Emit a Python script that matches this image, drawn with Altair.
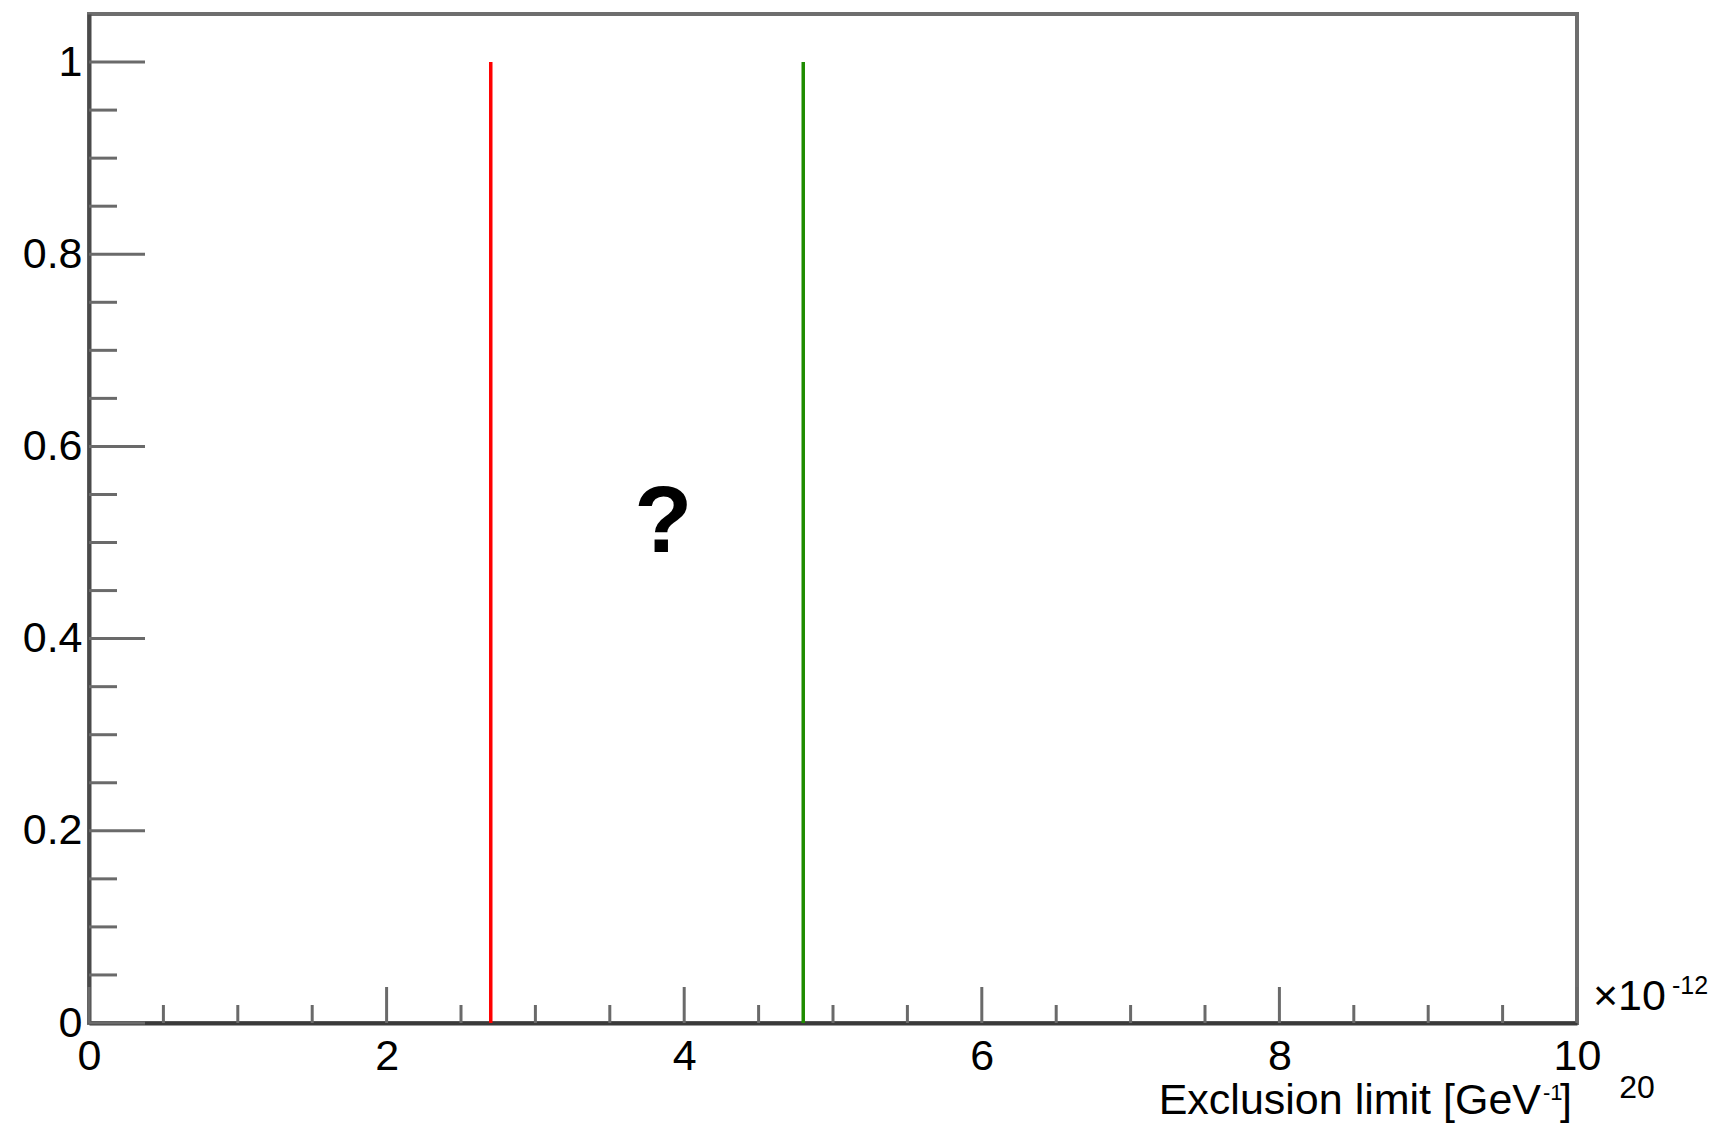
import altair as alt
import pandas as pd

# ---- data ----
limit_values = [2.7, 4.8]
limit_colors = ["#ff0000", "#1e8c00"]
y_major = [0.0, 0.2, 0.4, 0.6, 0.8, 1.0]
y_minor = [0.05, 0.1, 0.15, 0.25, 0.3, 0.35, 0.45, 0.5, 0.55, 0.65, 0.7, 0.75, 0.85, 0.9, 0.95]
x_major = [0, 2, 4, 6, 8, 10]
x_minor = [0.5, 1, 1.5, 2.5, 3, 3.5, 4.5, 5, 5.5, 6.5, 7, 7.5, 8.5, 9, 9.5]
x_title_main = "Exclusion limit [GeV"
x_title_sup = "-1"
x_title_end = "]"
exp_base = "×10"
exp_sup = "-12"
page_number = "20"
question = "?"
question_pos = [3.86, 0.49]

W, H = 1488, 1009
FONT = "Liberation Sans"
TICK = "#6a6a6a"

xs = alt.Scale(domain=[0, 10], nice=False, zero=False)
ys = alt.Scale(domain=[0, 1.05], nice=False, zero=False)

x_axis = alt.Axis(values=x_major, format="~f", title=None, ticks=False, grid=False,
                  domain=True, domainColor="#3a3a3a", domainWidth=4,
                  labelFont=FONT, labelFontSize=43, labelColor="#000",
                  labelPadding=12, labelFlush=False, labelOverlap=False)
y_axis = alt.Axis(values=y_major, format="~f", title=None, ticks=False, grid=False,
                  domain=True, domainColor="#4a4a4a", domainWidth=4,
                  labelFont=FONT, labelFontSize=43, labelColor="#000",
                  labelPadding=7, labelFlush=False, labelOverlap=False)

lim_df = pd.DataFrame({"x": limit_values, "y0": [0.0] * len(limit_values),
                       "y1": [1.0] * len(limit_values), "c": limit_colors})
lines = alt.Chart(lim_df).mark_rule(strokeWidth=3.5).encode(
    x=alt.X("x:Q", scale=xs, axis=x_axis),
    y=alt.Y("y0:Q", scale=ys, axis=y_axis),
    y2="y1:Q",
    color=alt.Color("c:N", scale=None),
)

ymaj = alt.Chart(pd.DataFrame({"v": y_major})).mark_rule(color=TICK, strokeWidth=3).encode(
    y=alt.Y("v:Q", scale=ys, axis=y_axis), x=alt.value(0), x2=alt.value(56))
ymin = alt.Chart(pd.DataFrame({"v": y_minor})).mark_rule(color=TICK, strokeWidth=3).encode(
    y=alt.Y("v:Q", scale=ys, axis=y_axis), x=alt.value(0), x2=alt.value(28))
xmaj = alt.Chart(pd.DataFrame({"v": x_major})).mark_rule(color=TICK, strokeWidth=3).encode(
    x=alt.X("v:Q", scale=xs, axis=x_axis), y=alt.value(H), y2=alt.value(H - 36))
xmin = alt.Chart(pd.DataFrame({"v": x_minor})).mark_rule(color=TICK, strokeWidth=3).encode(
    x=alt.X("v:Q", scale=xs, axis=x_axis), y=alt.value(H), y2=alt.value(H - 18))


def label(text, px, py, size, align="left", weight="normal", font=FONT):
    return alt.Chart(pd.DataFrame({"t": [text]})).mark_text(
        align=align, baseline="alphabetic", fontSize=size, font=font,
        fontWeight=weight, color="#000").encode(
        text="t:N", x=alt.value(px), y=alt.value(py))


t_main = label(x_title_main, 1452, 1100, 43, align="right")
t_sup = label(x_title_sup, 1454, 1086, 22)
t_end = label(x_title_end, 1471, 1100, 43)
e_base = label(exp_base, 1504, 996, 43)
e_sup = label(exp_sup, 1583, 980, 25)
pnum = label(page_number, 1548, 1084, 32, align="center")

q = alt.Chart(pd.DataFrame({"x": [question_pos[0]], "y": [question_pos[1]], "t": [question]})).mark_text(
    align="center", baseline="alphabetic", fontSize=95, font=FONT, fontWeight="bold", color="#000").encode(
    x=alt.X("x:Q", scale=xs, axis=x_axis), y=alt.Y("y:Q", scale=ys, axis=y_axis), text="t:N")

chart = alt.layer(lines, ymin, ymaj, xmin, xmaj, q, t_main, t_sup, t_end, e_base, e_sup, pnum).properties(
    width=W, height=H,
    autosize=alt.AutoSizeParams(type="none"),
    padding={"left": 89, "top": 14, "right": 1726 - 89 - W, "bottom": 1123 - 14 - H},
    background="white",
).configure_view(stroke="#6e6e6e", strokeWidth=4)

chart.save("out.html", embed_options={"renderer": "svg", "actions": False})
